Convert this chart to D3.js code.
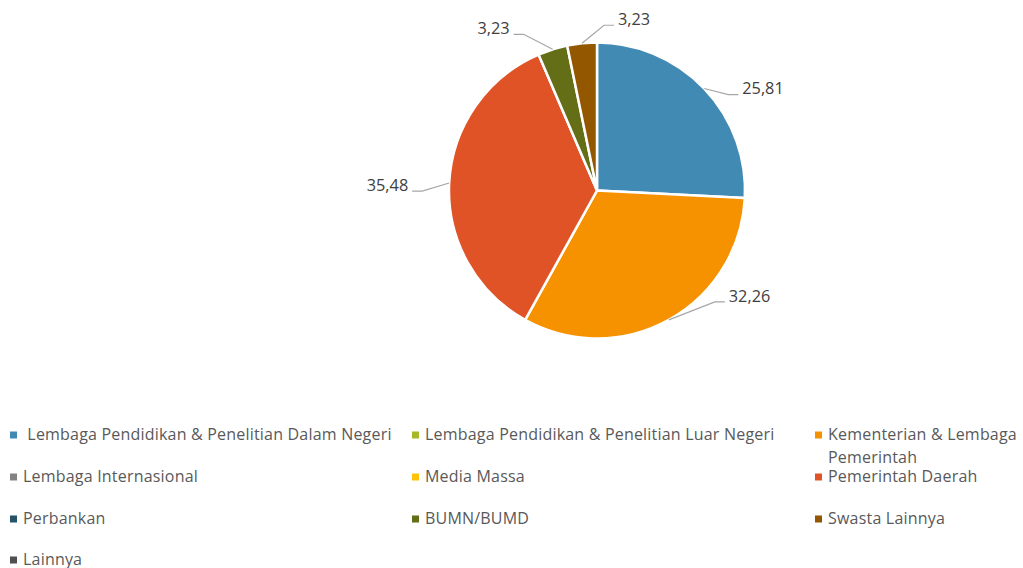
<!DOCTYPE html>
<html>
<head>
<meta charset="utf-8">
<script src="https://cdn.jsdelivr.net/npm/d3@7"></script>
<style>
  html, body { margin: 0; padding: 0; background: #fff; }
  svg { display: block; }
</style>
</head>
<body>
<svg id="chart" width="1023" height="568"></svg>
<script>
// ---- Data ----
const categories = [
  " Lembaga Pendidikan & Penelitian Dalam Negeri",
  "Lembaga Pendidikan & Penelitian Luar Negeri",
  "Kementerian & Lembaga Pemerintah",
  "Lembaga Internasional",
  "Media Massa",
  "Pemerintah Daerah",
  "Perbankan",
  "BUMN/BUMD",
  "Swasta Lainnya",
  "Lainnya"
];
const values = [25.81, 0, 32.26, 0, 0, 35.48, 0, 3.23, 3.23, 0];
const colors = ["#418AB3", "#A6B727", "#F69200", "#838383", "#FEC306",
                "#DF5327", "#275369", "#646E17", "#935700", "#4F4F4F"];

// label placement nudges (layout only): [dx to text edge, dy to text centre]
const labelNudge = {
  0: [38, 0],
  2: [60, -24],
  5: [-41, 2],
  7: [-43, -21],
  8: [36, -24]
};

const svg = d3.select("#chart");
const W = 1023, H = 568;
const cx = 597, cy = 190.5, R = 148;

const pie = d3.pie().sort(null).value(d => d.value);
const data = categories.map((c, i) => ({ cat: c, value: values[i], color: colors[i], i }));
const arcs = pie(data);
const arc = d3.arc().innerRadius(0).outerRadius(R);

const g = svg.append("g").attr("transform", `translate(${cx},${cy})`);
g.selectAll("path.slice")
  .data(arcs.filter(a => a.data.value > 0))
  .join("path")
  .attr("class", "slice")
  .attr("d", arc)
  .attr("fill", d => d.data.color)
  .attr("stroke", "#fff")
  .attr("stroke-width", 2.5)
  .attr("stroke-linejoin", "round");

// labels + leader lines
const labelFont = "'Open Sans', 'DejaVu Sans', sans-serif";
arcs.filter(a => a.data.value > 0).forEach(a => {
  const mid = (a.startAngle + a.endAngle) / 2;
  const px = Math.sin(mid) * R, py = -Math.cos(mid) * R;
  const nud = labelNudge[a.data.i] || [20 * Math.sign(px), 0];
  const right = nud[0] > 0;
  const tx = px + nud[0], ty = py + nud[1];
  const ly = ty + 6;
  const endX = right ? tx - 4 : tx + 4;
  const elbowX = right ? tx - 14 : tx + 14;
  g.append("path")
    .attr("d", `M${px},${py}L${elbowX},${ly}L${endX},${ly}`)
    .attr("fill", "none")
    .attr("stroke", "#A6A6A6")
    .attr("stroke-width", 1.2);
  g.append("text")
    .attr("x", tx).attr("y", ty)
    .attr("dy", "0.35em")
    .attr("text-anchor", right ? "start" : "end")
    .attr("font-family", labelFont)
    .attr("font-size", 16.3)
    .attr("fill", "#404040")
    .text(d3.format(".2f")(a.data.value).replace(".", ","));
});

// ---- Legend ----
const colX = [10, 412, 815];
const rowY = [435, 477, 519, 560];
const legend = svg.append("g");
data.forEach((d, i) => {
  const col = i % 3, row = Math.floor(i / 3);
  const x = colX[col], y = rowY[row];
  const item = legend.append("g").attr("transform", `translate(${x},${y})`);
  item.append("rect")
    .attr("x", 0).attr("y", -3.5)
    .attr("width", 7).attr("height", 7)
    .attr("fill", d.color);
  const t = item.append("text")
    .attr("x", 13).attr("y", 0)
    .attr("dy", "0.33em")
    .attr("font-family", labelFont)
    .attr("font-size", 16)
    .attr("letter-spacing", 0.2)
    .attr("fill", "#595959")
    .style("white-space", "pre")
    .attr("xml:space", "preserve");
  // simple word wrap against page edge
  const maxW = W - (x + 13) - 1;
  const words = d.cat.split(" ");
  let line = [];
  let tspan = t.append("tspan").attr("x", 13);
  words.forEach(w => {
    line.push(w);
    tspan.text(line.join(" "));
    if (tspan.node().getComputedTextLength() > maxW && line.length > 1) {
      line.pop();
      tspan.text(line.join(" "));
      line = [w];
      tspan = t.append("tspan").attr("x", 13).attr("dy", "1.45em").text(w);
    }
  });
});
</script>
</body>
</html>
